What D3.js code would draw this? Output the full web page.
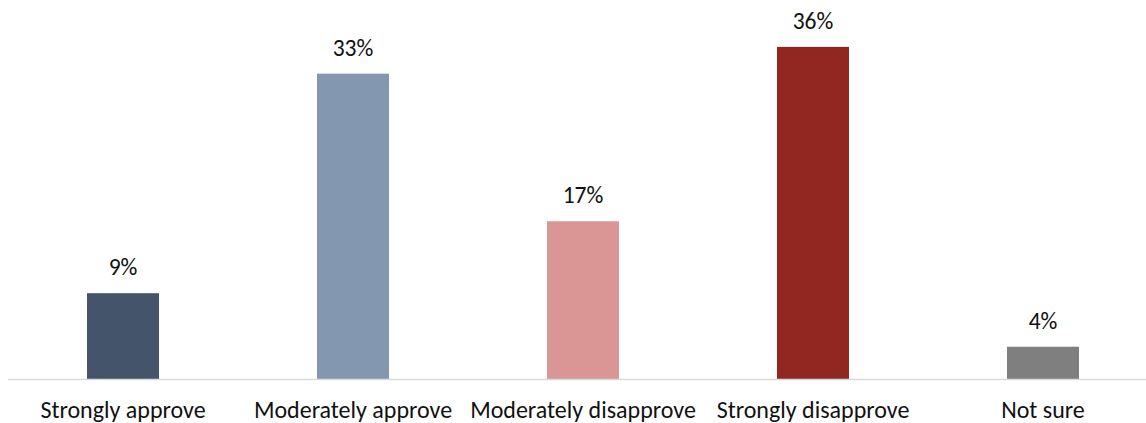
<!DOCTYPE html>
<html>
<head>
<meta charset="utf-8">
<script src="https://cdn.jsdelivr.net/npm/d3@7"></script>
<style>
  html, body { margin: 0; padding: 0; background: #fff; }
  svg { display: block; }
  text { font-family: Carlito, Calibri, Lato, sans-serif; fill: #111; }
</style>
</head>
<body>
<div id="chart"></div>
<script>
// chart data (bar heights, labels shown rounded)
const categories = ["Strongly approve", "Moderately approve", "Moderately disapprove", "Strongly disapprove", "Not sure"];
const values = [9.3, 33.1, 17.1, 36.0, 3.5];
const colors = ["#44546A", "#8497B0", "#DA9694", "#922721", "#7F7F7F"];

const width = 1146, height = 423;
const baseline = 379;

const svg = d3.select("#chart")
    .append("svg")
    .attr("width", width)
    .attr("height", height);

const x = d3.scaleBand()
    .domain(categories)
    .range([8, 1158])
    .paddingInner(0.687)
    .paddingOuter(0.3435);

const y = d3.scaleLinear()
    .domain([0, 40])
    .range([baseline, 10]);

const rows = categories.map((c, i) => ({ cat: c, val: values[i], color: colors[i] }));

// bars
svg.selectAll("rect.bar")
    .data(rows)
    .join("rect")
    .attr("class", "bar")
    .attr("x", d => x(d.cat))
    .attr("y", d => y(d.val))
    .attr("width", x.bandwidth())
    .attr("height", d => baseline - y(d.val))
    .attr("fill", d => d.color);

// axis line
svg.append("line")
    .attr("x1", 8).attr("x2", width)
    .attr("y1", baseline + 0.5).attr("y2", baseline + 0.5)
    .attr("stroke", "#d9d9d9")
    .attr("stroke-width", 1.5);

// value labels
svg.selectAll("text.val")
    .data(rows)
    .join("text")
    .attr("class", "val")
    .attr("x", d => x(d.cat) + x.bandwidth() / 2)
    .attr("y", d => y(d.val) - 18)
    .attr("text-anchor", "middle")
    .style("font-size", "23.5px")
    .text(d => Math.round(d.val) + "%");

// category labels
svg.selectAll("text.cat")
    .data(rows)
    .join("text")
    .attr("class", "cat")
    .attr("x", d => x(d.cat) + x.bandwidth() / 2)
    .attr("y", 418)
    .attr("text-anchor", "middle")
    .style("font-size", "24px")
    .text(d => d.cat);
</script>
</body>
</html>
